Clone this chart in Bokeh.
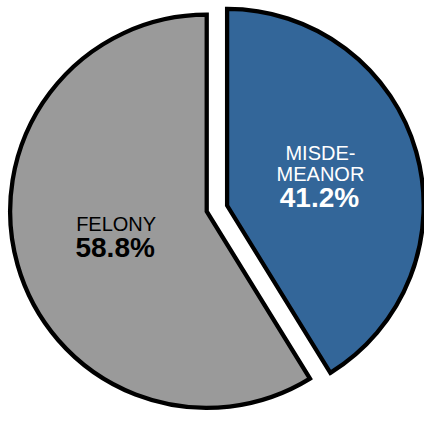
import numpy as np
from bokeh.plotting import figure
from bokeh.models import ColumnDataSource, Range1d
from bokeh.core.properties import value
from bokeh.embed import file_html
from bokeh.resources import INLINE

# ---- data ----
categories = ["MISDEMEANOR", "FELONY"]
shares = [41.2, 58.8]
colors = ["#336699", "#9A9A9A"]
label_lines = [["MISDE-", "MEANOR"], ["FELONY"]]
pct_labels = ["41.2%", "58.8%"]
explode = [22, 0]

REF_W, REF_H = 440, 427
FW, FH = 424, 411

p = figure(width=FW, height=FH, output_backend="svg", toolbar_location=None,
           x_range=Range1d(0, REF_W), y_range=Range1d(0, REF_H),
           min_border=0)
p.axis.visible = False
p.grid.visible = False
p.outline_line_color = None
p.background_fill_color = "white"
p.border_fill_color = "white"

cx, cy = 214, REF_H - 219
r = 204

frac = np.array(shares) / np.sum(shares)
# slices run clockwise from 12 o'clock
cum = np.concatenate([[0], np.cumsum(frac)])
starts_cw = cum[:-1] * 2 * np.pi
ends_cw = cum[1:] * 2 * np.pi
start_angle = np.pi / 2 - ends_cw
end_angle = np.pi / 2 - starts_cw
mid = (start_angle + end_angle) / 2
xs = cx + np.array(explode) * np.cos(mid)
ys = cy + np.array(explode) * np.sin(mid)

src = ColumnDataSource(dict(x=xs, y=ys, start=start_angle, end=end_angle,
                            color=colors, cat=categories))
p.wedge(x="x", y="y", radius=r, start_angle="start", end_angle="end",
        fill_color="color", line_color="black", line_width=4.3,
        line_join="miter", source=src)

label_pos = [(332, REF_H - 158), (120, REF_H - 232)]
text_cols = ["white", "black"]
for (lx, ly), lines, pct, tc in zip(label_pos, label_lines, pct_labels, text_cols):
    for i, t in enumerate(lines):
        p.text(x=[lx], y=[ly - 22 * i], text=[t], text_align="center",
               text_baseline="alphabetic", text_color=tc,
               text_font=value("Liberation Sans"), text_font_size="20px")
    p.text(x=[lx - 1], y=[ly - 22 * (len(lines) - 1) - 25], text=[pct],
           text_align="center", text_baseline="alphabetic", text_color=tc,
           text_font=value("Liberation Sans"), text_font_size="28px",
           text_font_style="bold")

open("out.html", "w").write(file_html(p, INLINE))
